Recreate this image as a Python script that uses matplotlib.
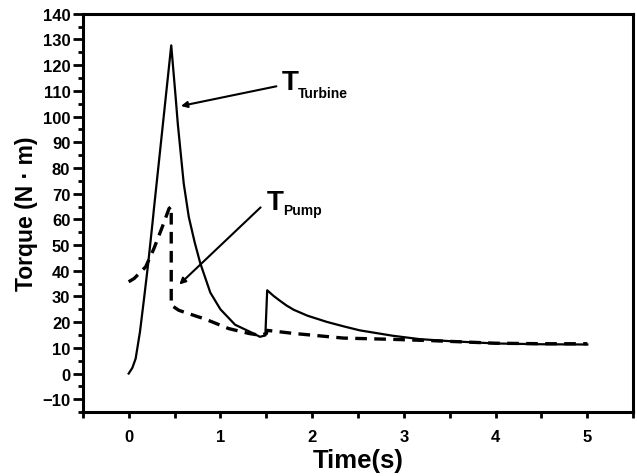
import matplotlib.pyplot as plt
from matplotlib.ticker import MultipleLocator

# values
t_turbine = [0, 0.04, 0.076, 0.123, 0.167, 0.21, 0.258, 0.275, 0.373, 0.464,
             0.511, 0.536, 0.6, 0.655, 0.72, 0.78, 0.89, 1.0, 1.16, 1.36, 1.43,
             1.49, 1.51, 1.58, 1.65, 1.72, 1.80, 1.95, 2.16, 2.35, 2.52, 2.88,
             3.17, 3.5, 4.0, 4.5, 5.0]
T_turbine = [0, 2.2, 5.8, 16.2, 29, 42, 58, 64, 97, 127.7,
             108, 97, 74, 61, 51, 43, 31.5, 25, 19, 15.6, 14.3,
             14.8, 32.4, 30.2, 28.3, 26.5, 24.8, 22.5, 20.1, 18.3, 16.8, 14.7,
             13.4, 12.6, 11.7, 11.4, 11.3]

t_pump = [0, 0.06, 0.185, 0.275, 0.366, 0.44, 0.464, 0.464, 0.547, 0.764, 0.82,
          1.09, 1.31, 1.43, 1.5, 1.51, 1.8, 2.34, 2.88, 3.3, 4.0, 4.5, 5.0]
T_pump = [35.7, 37, 41.5, 48.6, 57, 64.2, 65, 26.6, 24.6, 22, 21.4,
          17.5, 15.6, 14.9, 15.5, 16.8, 15.6, 13.8, 13.3, 12.8, 11.8, 11.6, 11.6]

plt.rcParams['font.family'] = ['Liberation Sans', 'DejaVu Sans']
plt.rcParams['font.weight'] = 'bold'

fig = plt.figure(figsize=(6.37, 4.77), dpi=100)
ax = fig.add_axes([0.130, 0.134, 0.864, 0.835])

ax.plot(t_turbine, T_turbine, color='black', lw=1.6)
ax.plot(t_pump, T_pump, color='black', lw=2.4, ls=(0, (3.5, 2.2)))

ax.set_xlim(-0.5, 5.5)
ax.set_ylim(-15, 140)
ax.xaxis.set_minor_locator(MultipleLocator(0.5))
ax.set_xticks(range(0, 6))
ax.set_yticks(range(-10, 141, 10))
ax.yaxis.set_minor_locator(MultipleLocator(5))
ax.tick_params(axis='y', which='major', direction='out', length=7, width=2,
               pad=2, labelsize=12)
ax.tick_params(axis='y', which='minor', direction='out', length=3.5, width=2)
ax.tick_params(axis='x', which='major', direction='out', length=4, width=2,
               pad=8, labelsize=12)
ax.tick_params(axis='x', which='minor', direction='out', length=4, width=2)
for lbl in ax.get_xticklabels() + ax.get_yticklabels():
    lbl.set_fontweight('bold')
for s in ax.spines.values():
    s.set_linewidth(2.2)

ax.set_xlabel('Time(s)', fontsize=18.5, fontweight='bold', labelpad=3)
ax.set_ylabel('Torque (N \u00b7 m)', fontsize=16.5, fontweight='bold', labelpad=3)

# annotations
ax.annotate('', xy=(0.54, 103.9), xytext=(1.64, 112),
            arrowprops=dict(arrowstyle='-|>', color='black', lw=1.5, mutation_scale=9))
ax.text(1.67, 110.8, 'T', fontsize=20, va='baseline', ha='left')
ax.text(1.848, 107.6, 'Turbine', fontsize=10, va='baseline', ha='left')

ax.annotate('', xy=(0.53, 33.9), xytext=(1.46, 65.4),
            arrowprops=dict(arrowstyle='-|>', color='black', lw=1.5, mutation_scale=9))
ax.text(1.507, 64.2, 'T', fontsize=20, va='baseline', ha='left')
ax.text(1.68, 61.9, 'Pump', fontsize=10, va='baseline', ha='left')

fig.savefig('out.png', dpi=100)
